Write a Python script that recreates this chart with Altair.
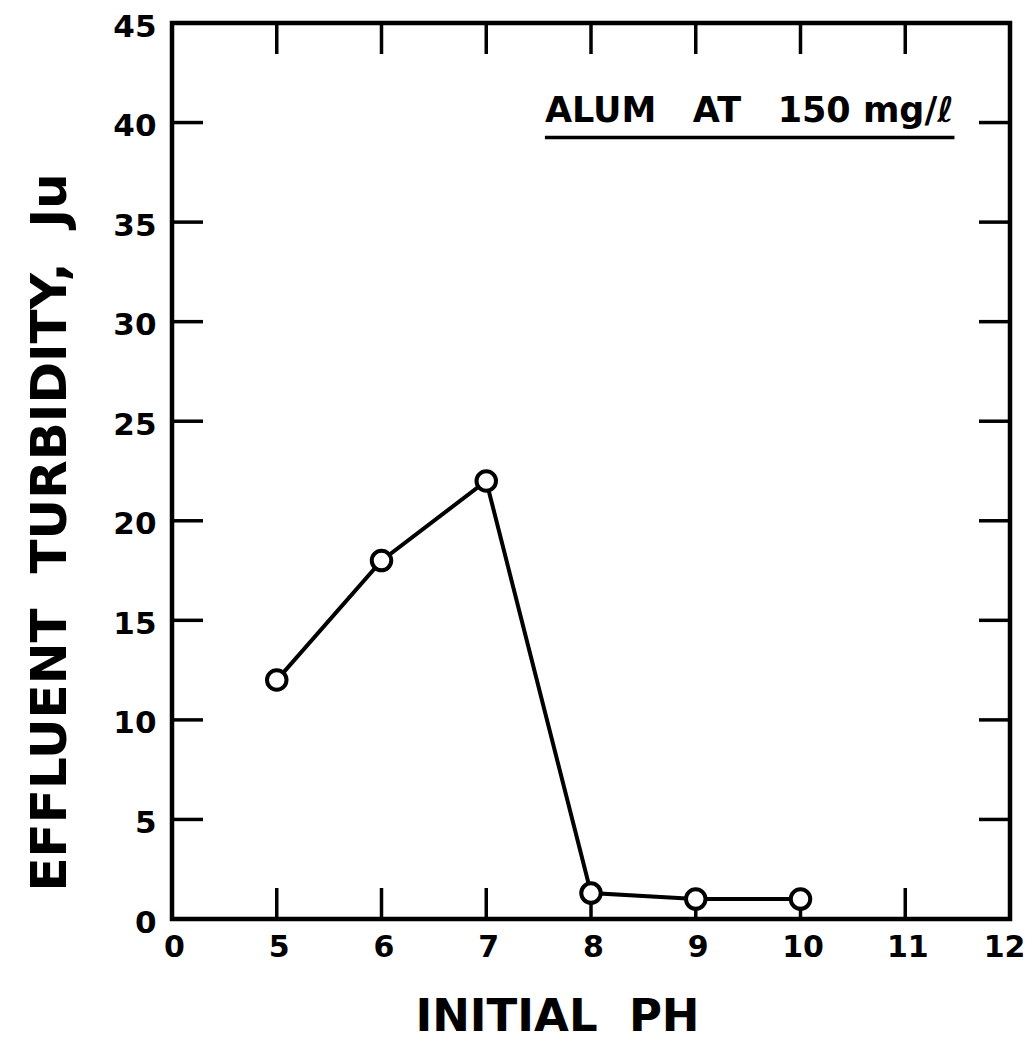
import altair as alt
import pandas as pd

# data
ph = [5, 6, 7, 8, 9, 10]
turbidity = [12, 18, 22, 1.3, 1.0, 1.0]

x_tick_values = [4, 5, 6, 7, 8, 9, 10, 11, 12]   # 4 is drawn as the broken-axis "0"
x_inner_ticks = [5, 6, 7, 8, 9, 10, 11]
y_tick_values = [0, 5, 10, 15, 20, 25, 30, 35, 40, 45]
y_inner_ticks = [5, 10, 15, 20, 25, 30, 35, 40]

NB = "\u00a0"
note_text = "ALUM" + NB * 3 + "AT" + NB * 3 + "150" + NB + "mg/ℓ"
note_x, note_y = 7.56, 40.6
underline_x, underline_x2, underline_y = 7.56, 11.47, 39.25

W, H = 838, 896
TICK = 31
FONT = "DejaVu Sans"

df = pd.DataFrame({"ph": ph, "turb": turbidity})
xt = pd.DataFrame({"ph": x_inner_ticks})
yt = pd.DataFrame({"turb": y_inner_ticks})
note = pd.DataFrame({"ph": [note_x], "turb": [note_y], "label": [note_text]})
uline = pd.DataFrame({"ph": [underline_x], "ph2": [underline_x2], "turb": [underline_y]})

xscale = alt.Scale(domain=[4, 12], nice=False, zero=False)
yscale = alt.Scale(domain=[0, 45], nice=False)

xaxis = alt.Axis(
    values=x_tick_values,
    labelExpr="datum.value == 4 ? '0' : datum.label",
    title="INITIAL" + NB * 2 + "PH",
    titleFontSize=45, titleFont=FONT, titleFontWeight="bold", titleColor="black",
    titleX=385, titleY=97, titleBaseline="middle", titleAnchor="middle", titleAlign="center",
    labelFontSize=30, labelFont=FONT, labelFontWeight="bold", labelColor="black",
    labelAlign={"condition": {"test": "datum.value == 12", "value": "right"}, "value": "center"},
    labelOffset={"condition": {"test": "datum.value == 12", "value": 15}, "value": 2},
    labelPadding=13, ticks=False, domain=False, grid=False, labelFlush=False,
)
yaxis = alt.Axis(
    values=y_tick_values,
    title="EFFLUENT" + NB * 2 + "TURBIDITY," + NB * 2 + "Ju",
    titleFontSize=50, titleFont=FONT, titleFontWeight="bold", titleColor="black",
    titleAngle=-90, titleX=-122, titleY=509, titleBaseline="middle", titleAlign="center",
    labelFontSize=31, labelFont=FONT, labelFontWeight="bold", labelColor="black",
    labelOffset=4,
    labelPadding=16, ticks=False, domain=False, grid=False, labelFlush=False,
)

X = alt.X("ph:Q", scale=xscale, axis=xaxis)
Y = alt.Y("turb:Q", scale=yscale, axis=yaxis)

bottom_ticks = alt.Chart(xt).mark_rule(color="black", strokeWidth=3.5).encode(
    x=X, y=alt.value(H), y2=alt.value(H - TICK))
top_ticks = alt.Chart(xt).mark_rule(color="black", strokeWidth=3.5).encode(
    x=X, y=alt.value(0), y2=alt.value(TICK))
left_ticks = alt.Chart(yt).mark_rule(color="black", strokeWidth=3.5).encode(
    y=Y, x=alt.value(0), x2=alt.value(TICK))
right_ticks = alt.Chart(yt).mark_rule(color="black", strokeWidth=3.5).encode(
    y=Y, x=alt.value(W), x2=alt.value(W - TICK))

line = alt.Chart(df).mark_line(color="black", strokeWidth=4).encode(x=X, y=Y)
points = alt.Chart(df).mark_point(
    shape="circle", filled=True, fill="white", stroke="black", strokeWidth=4,
    size=380, opacity=1).encode(x=X, y=Y)

note_txt = alt.Chart(note).mark_text(
    align="left", baseline="middle", fontSize=35, font=FONT, fontWeight="bold",
    color="black").encode(x=X, y=Y, text="label:N")
note_rule = alt.Chart(uline).mark_rule(color="black", strokeWidth=3.5).encode(
    x=X, x2="ph2:Q", y=Y)

chart = alt.layer(
    bottom_ticks, top_ticks, left_ticks, right_ticks,
    line, points, note_txt, note_rule,
).properties(
    width=W, height=H,
    autosize=alt.AutoSizeParams(type="none"),
    padding={"left": 164, "top": 15, "right": 17, "bottom": 125},
).configure(
    background="white",
    view=alt.ViewConfig(stroke="black", strokeWidth=4.5),
)

chart.save("out.html", embed_options={"renderer": "svg", "actions": False})
